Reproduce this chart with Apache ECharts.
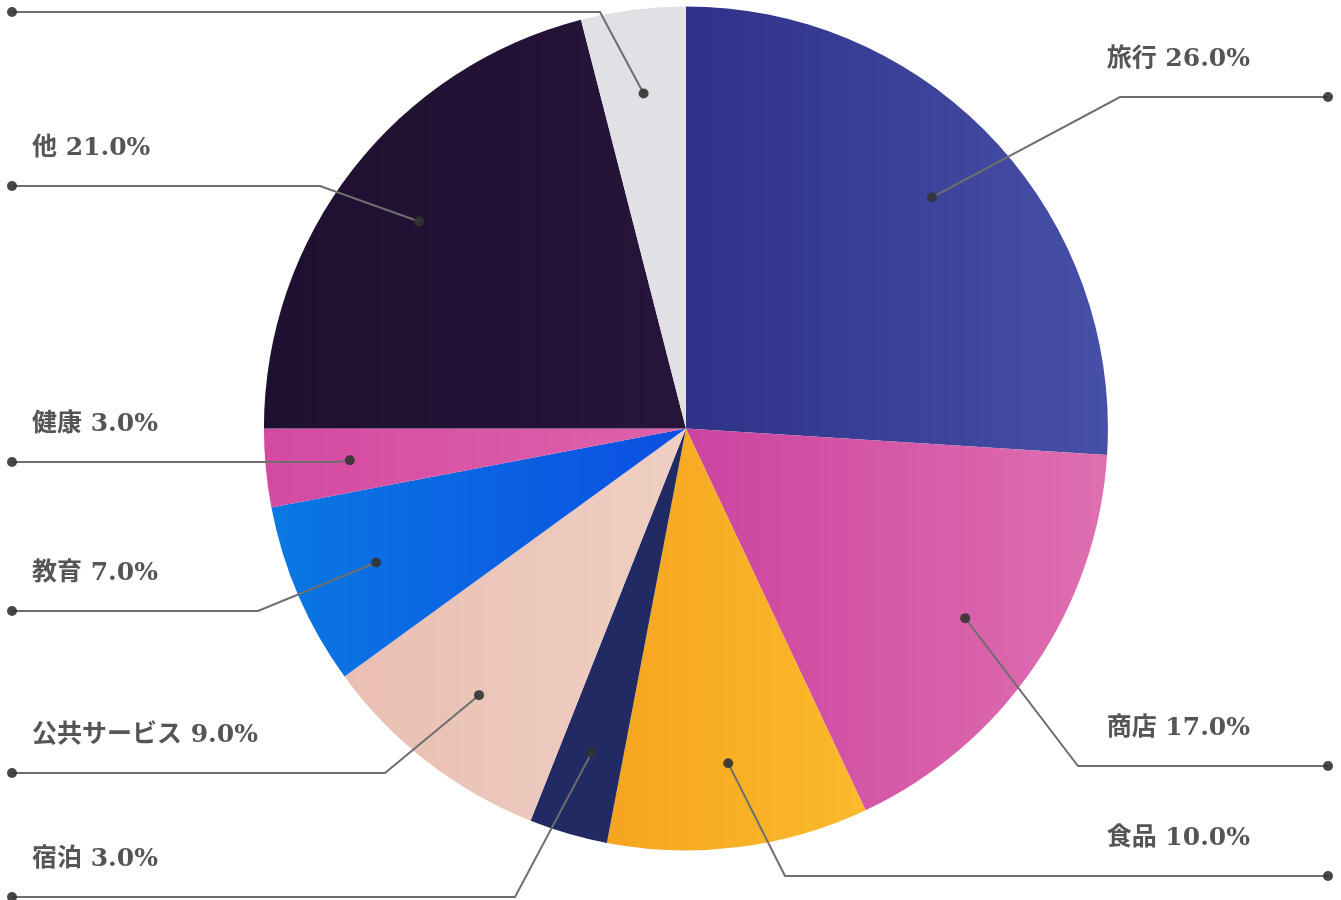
<!DOCTYPE html>
<html><head><meta charset="utf-8">
<script src="https://cdn.jsdelivr.net/npm/echarts@6/dist/echarts.min.js"></script>
<style>html,body{margin:0;padding:0;background:#fff}#chart{width:1341px;height:900px}</style>
</head><body><div id="chart"></div>
<script>
// ---- data ----
const categories = ['旅行', '商店', '食品', '宿泊', '公共サービス', '教育', '健康', '他', 'その他'];
const values = [26, 17, 10, 3, 9, 7, 3, 21, 4];
const hiddenLabel = [false, false, false, false, false, false, false, false, true];

// ---- styles / label guide layout ----
const sliceColors = [
  ['#2e3288', '#4750a7'],
  ['#cc449f', '#df6fb1'],
  ['#f5a51f', '#fbba2b'],
  ['#222a63', '#222a63'],
  ['#e9bfb2', '#efcfc3'],
  ['#0a78e2', '#0b4fe2'],
  ['#d44aa2', '#df62ab'],
  ['#1e1030', '#27143a'],
  ['#e1e1e5', '#e1e1e5']
];
const guideY = [97, 766, 876, 897, 773, 611, 462, 186, 12];
const guideElbowX = [1120, 1078, 785, 515, 385, 258, 335, 320, 600];
const innerFrac = 0.8;

const chart = echarts.init(document.getElementById('chart'), null, { renderer: 'canvas' });
const W = chart.getWidth();

function guide(i) {
  const data = chart.getModel().getSeriesByIndex(0).getData();
  const l = data.getItemLayout(i);
  const mid = (l.startAngle + l.endAngle) / 2;
  const inner = [l.cx + innerFrac * l.r * Math.cos(mid), l.cy + innerFrac * l.r * Math.sin(mid)];
  const left = inner[0] < l.cx;
  const end = [left ? 12 : W - 13, guideY[i]];
  const elbow = [guideElbowX[i], guideY[i]];
  return { inner, elbow, end, left };
}

const option = {
  backgroundColor: '#ffffff',
  animation: false,
  series: [{
    type: 'pie',
    center: ['51.15%', '47.6%'],
    radius: 422,
    startAngle: 90,
    clockwise: true,
    avoidLabelOverlap: false,
    data: categories.map((name, i) => ({
      name: name,
      value: values[i],
      itemStyle: {
        color: {
          type: 'linear', x: 0, y: 0, x2: 1, y2: 0,
          colorStops: [{ offset: 0, color: sliceColors[i][0] }, { offset: 1, color: sliceColors[i][1] }]
        }
      }
    })),
    label: {
      show: true,
      position: 'outside',
      formatter: p => hiddenLabel[p.dataIndex] ? ' ' : p.name + ' ' + p.percent.toFixed(1) + '%',
      fontFamily: '"DejaVu Serif", "Noto Sans CJK JP", serif',
      fontSize: 25,
      fontWeight: 'bold',
      color: '#555555'
    },
    labelLine: { show: false },
    labelLayout: function (p) {
      const i = p.dataIndex;
      const g = guide(i);
      return {
        x: g.left ? 32 : W - 91,
        y: guideY[i] - 25,
        align: g.left ? 'left' : 'right',
        verticalAlign: 'bottom'
      };
    }
  }]
};
chart.setOption(option);

const guides = [];
categories.forEach((c, i) => {
  const g = guide(i);
  guides.push({
    type: 'polyline',
    shape: { points: [g.inner, g.elbow, g.end] },
    style: { stroke: '#6e6e6e', lineWidth: 2, fill: null },
    silent: true,
    z: 100
  });
  [g.inner, g.end].forEach(pt => {
    guides.push({
      type: 'circle',
      shape: { cx: pt[0], cy: pt[1], r: 5 },
      style: { fill: '#333333', opacity: 0.9 },
      silent: true,
      z: 101
    });
  });
});
chart.setOption({ graphic: guides });
</script></body></html>
